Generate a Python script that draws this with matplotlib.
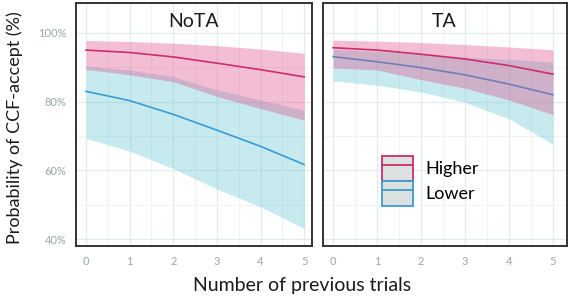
import matplotlib
matplotlib.use("Agg")
import matplotlib.pyplot as plt
from matplotlib.patches import Patch
from matplotlib.lines import Line2D
from matplotlib.ticker import MultipleLocator, FuncFormatter

plt.rcParams['font.family'] = ['Lato', 'DejaVu Sans']

trials = [0, 1, 2, 3, 4, 5]
panels = ["NoTA", "TA"]
groups = ["Higher", "Lower"]

# NoTA
nota_high = [95.0, 94.3, 93.0, 91.2, 89.3, 87.2]
nota_high_lo = [89.4, 87.8, 85.8, 81.5, 78.0, 74.6]
nota_high_hi = [97.8, 97.5, 97.0, 96.3, 95.3, 94.1]
nota_low = [83.0, 80.3, 76.3, 71.7, 67.0, 61.7]
nota_low_lo = [69.3, 65.6, 60.5, 54.6, 49.4, 43.1]
nota_low_hi = [90.4, 89.2, 87.3, 83.4, 80.5, 77.5]

# TA
ta_high = [95.7, 95.0, 93.8, 92.4, 90.5, 88.0]
ta_high_lo = [89.8, 89.2, 86.4, 83.9, 80.5, 76.2]
ta_high_hi = [97.9, 97.6, 97.2, 96.6, 95.9, 95.1]
ta_low = [93.1, 91.6, 89.9, 87.8, 85.1, 82.0]
ta_low_lo = [86.0, 84.8, 82.8, 79.8, 75.0, 67.6]
ta_low_hi = [95.2, 94.6, 93.8, 93.0, 92.3, 91.5]

data = {
    "NoTA": {"Higher": (nota_high, nota_high_lo, nota_high_hi),
             "Lower": (nota_low, nota_low_lo, nota_low_hi)},
    "TA": {"Higher": (ta_high, ta_high_lo, ta_high_hi),
           "Lower": (ta_low, ta_low_lo, ta_low_hi)},
}

line_col = {"Higher": "#CD2D6C", "Lower": "#3A9BD4"}
band_col = {"Higher": "#DF4583", "Lower": "#61C5D3"}
band_alpha = {"Higher": 0.35, "Lower": 0.35}

W, H = 569, 302
fig = plt.figure(figsize=(W / 100, H / 100), dpi=100)

boxes = {"NoTA": (76, 312, (-0.23, 5.18)), "TA": (323, 567, (-0.23, 5.32))}
top_px, bot_px = 3, 246

axes = {}
for p in panels:
    x0, x1, xl = boxes[p]
    ax = fig.add_axes([x0 / W, 1 - bot_px / H, (x1 - x0) / W, (bot_px - top_px) / H])
    axes[p] = ax
    z = 2
    for g in ["Lower", "Higher"]:
        m, lo, hi = data[p][g]
        ax.fill_between(trials, lo, hi, color=band_col[g], alpha=band_alpha[g], lw=0, zorder=z)
        ax.plot(trials, m, color=line_col[g], lw=1.2, zorder=z + 0.5)
        z += 1
    ax.set_xlim(*xl)
    ax.set_ylim(38, 108.7)
    ax.xaxis.set_major_locator(MultipleLocator(1))
    ax.xaxis.set_minor_locator(MultipleLocator(0.5))
    ax.yaxis.set_major_locator(MultipleLocator(20))
    ax.yaxis.set_minor_locator(MultipleLocator(10))
    ax.grid(True, which='major', color='#E3ECEC', lw=0.9, zorder=0)
    ax.grid(True, which='minor', color='#EEF3F3', lw=0.7, zorder=0)
    ax.set_axisbelow(True)
    ax.tick_params(which='both', length=0, labelsize=8, labelcolor='#9AA6A6', pad=7)
    ax.yaxis.set_major_formatter(FuncFormatter(lambda v, pos: f"{int(v)}%"))
    for s in ax.spines.values():
        s.set_color('#333333')
        s.set_linewidth(1.4)
    ax.text(0.497, 0.925, p, transform=ax.transAxes, ha='center', va='center',
            fontsize=14, color='#1a1a1a')

axes["TA"].tick_params(labelleft=False)

handles = [
    (Patch(facecolor='#DCE0DE', edgecolor=line_col[g], lw=1.3),
     Line2D([], [], color=line_col[g], lw=1.3))
    for g in groups
]
axes["TA"].legend(handles, groups, loc='upper left', bbox_to_anchor=(0.24, 0.37),
                  frameon=False, fontsize=13, handlelength=1.75, handleheight=1.75,
                  labelspacing=0.0, borderpad=0, borderaxespad=0, handletextpad=0.7)

fig.text(0.026, 1 - 128 / H, "Probability of CCF-accept (%)", rotation=90,
         ha='center', va='center', fontsize=13, color='#1a1a1a')
fig.text(302 / W, 1 - 285 / H, "Number of previous trials", ha='center', va='center',
         fontsize=14, color='#1a1a1a')

fig.savefig("out.png", dpi=100)
